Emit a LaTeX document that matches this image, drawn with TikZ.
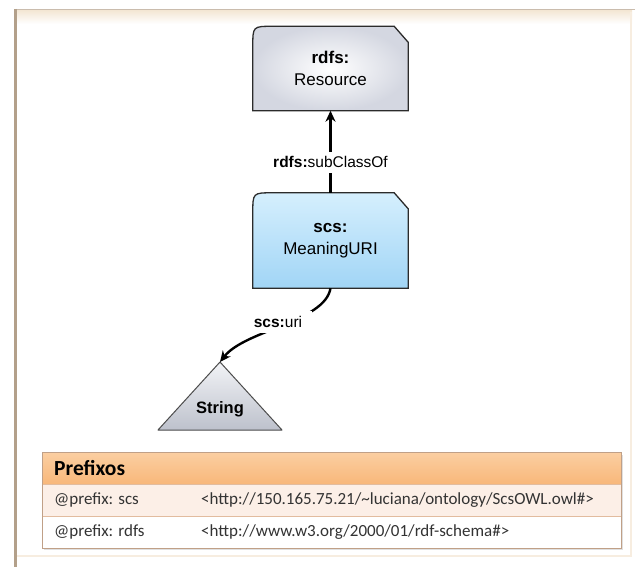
\documentclass[tikz,border=0pt]{standalone}
\usepackage{fontspec}
\setmainfont{Liberation Sans}
\newfontfamily\tabfont{Carlito}
\usetikzlibrary{arrows.meta,calc}

\definecolor{framedark}{HTML}{B3A08A}
\definecolor{framelight}{HTML}{F3E6D3}
\definecolor{boxline}{HTML}{2B2B2B}
\definecolor{resedge}{HTML}{D4D7E1}
\definecolor{mutop}{HTML}{D5EFFD}
\definecolor{mumid}{HTML}{C6E8FB}
\definecolor{mubot}{HTML}{A1D5F6}
\definecolor{tritop}{HTML}{F2F3F6}
\definecolor{tribot}{HTML}{BDC1CC}
\definecolor{headtop}{HTML}{FBCFA2}
\definecolor{headbot}{HTML}{F8B77A}
\definecolor{rowpink}{HTML}{FCEFE7}
\definecolor{tabline}{HTML}{E2BC9F}

\tikzset{
  classbox/.style={minimum width=155pt, minimum height=84pt, inner sep=0pt,
    align=center, font=\fontsize{17}{22}\selectfont},
  edgelabel/.style={fill=white, inner xsep=10pt, inner ysep=5pt,
    font=\fontsize{15.5}{18}\selectfont},
  relation/.style={draw=black, line width=2.4pt,
    -{Stealth[length=11pt, width=10pt]}},
  cell/.style={anchor=west, inner sep=0pt, font=\tabfont\fontsize{17}{20}\selectfont,
    text=black!80},
}

% folder-like class outline: round top-left, clipped top-right
\newcommand\classpath[1]{%
  ($(#1.north west)+(0,20)$) .. controls (#1.north west) .. ($(#1.north west)+(20,0)$)
  -- ($(#1.north east)+(-14,0)$) -- ($(#1.north east)+(0,16)$)
  -- (#1.south east) -- (#1.south west) -- cycle}

\begin{document}
\begin{tikzpicture}[x=1pt, y=-1pt]
\useasboundingbox (0,0) rectangle (635,567);
\fill[white] (0,0) rectangle (635,567);

% panel frame
\shade[top color=framelight, bottom color=white] (15,10) rectangle (632,24);
\draw[framelight!70!white, line width=1.5pt] (631,12) -- (631,556) -- (16,556);
\draw[framedark!70!white, line width=1.5pt] (15,9.5) -- (635,9.5);
\draw[framedark, line width=2.5pt] (15.5,9) -- (15.5,567);

% classes
\node[classbox] (res) at (330.5,68.5) {};
\node[classbox, minimum height=95pt] (mu) at (330.5,240.5) {};

\fill[black!30, opacity=0.45] [shift={(2.5,2.5)}] \classpath{res};
\shade[inner color=white, outer color=resedge] \classpath{res};
\draw[boxline, line width=1.3pt] \classpath{res};
\node[classbox] at (res) {\textbf{rdfs:}\\Resource};

\fill[black!30, opacity=0.45] [shift={(2.5,2.5)}] \classpath{mu};
\shade[top color=mutop, middle color=mumid!60!white, bottom color=mubot] \classpath{mu};
\draw[boxline, line width=1.3pt] \classpath{mu};
\node[classbox] at (mu) {\textbf{scs:}\\MeaningURI};

% literal type
\coordinate (apex) at (220,362);
\coordinate (baseL) at (158,430);
\coordinate (baseR) at (282,430);
\shade[top color=tritop, bottom color=tribot] (apex) -- (baseR) -- (baseL) -- cycle;
\draw[black!70, line width=1pt, line join=round] (apex) -- (baseR) -- (baseL) -- cycle;
\node[font=\bfseries\fontsize{16.5}{19}\selectfont] (str) at (220,409) {String};

% properties
\draw[relation] (mu.north) -- node[edgelabel, pos=0.37] (sub) {\textbf{rdfs:}subClassOf} (res.south);
\draw[relation] (mu.south) .. controls (325,322) and (245,330) .. (apex);
\node[edgelabel] (uri) at (278,322) {\textbf{scs:}uri};

% prefix table
\fill[black!12] (44,455) rectangle (623,550);
\shade[top color=headtop, bottom color=headbot] (42,452) rectangle (621,484);
\fill[rowpink] (42,484) rectangle (621,516);
\fill[white] (42,516) rectangle (621,548);
\draw[tabline, line width=0.8pt] (42,484) -- (621,484) (42,516) -- (621,516);
\draw[tabline!85!black, line width=0.8pt] (42,452) rectangle (621,548);

\node[cell, font=\tabfont\bfseries\fontsize{21.5}{24}\selectfont, text=black] (hd) at (54,468) {Prefixos};
\node[cell] (p1) at (54,500) {@prefix: scs};
\node[cell] (u1) at (201,500) {<http://150.165.75.21/\textasciitilde luciana/ontology/ScsOWL.owl\#>};
\node[cell] (p2) at (54,532) {@prefix: rdfs};
\node[cell] (u2) at (201,532) {<http://www.w3.org/2000/01/rdf-schema\#>};
\end{tikzpicture}
\end{document}
